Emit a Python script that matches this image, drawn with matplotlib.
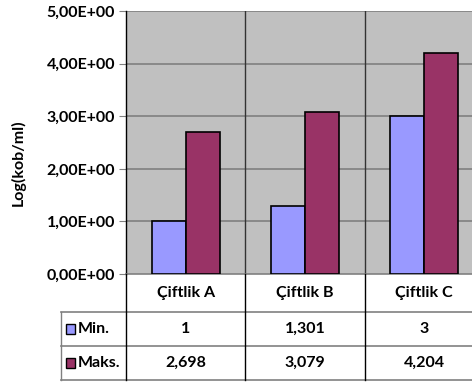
import matplotlib
matplotlib.use("Agg")
import matplotlib.pyplot as plt
from matplotlib.patches import Rectangle

categories = ["Çiftlik A", "Çiftlik B", "Çiftlik C"]
series_names = ["Min.", "Maks."]
min_values = [1, 1.301, 3]
max_values = [2.698, 3.079, 4.204]
min_labels = ["1", "1,301", "3"]
max_labels = ["2,698", "3,079", "4,204"]
y_ticks = [0, 1, 2, 3, 4, 5]
y_tick_labels = ["0,00E+00", "1,00E+00", "2,00E+00", "3,00E+00", "4,00E+00", "5,00E+00"]

plt.rcParams["font.family"] = ["Lato", "DejaVu Sans"]
plt.rcParams["font.weight"] = "bold"
FS = 11.5

W, H = 472, 382
fig = plt.figure(figsize=(W / 100, H / 100), dpi=100)
fig.patch.set_facecolor("white")

# plot area runs past the right edge of the figure, like the original sheet
left, right, top, bottom = 126, 484, 11, 274
ax = fig.add_axes([left / W, 1 - bottom / H, (right - left) / W, (bottom - top) / H])
ax.set_facecolor("#C0C0C0")

colors = ["#9999FF", "#993366"]
bar_w = 34 / 119
x = list(range(len(categories)))
ax.bar([i - bar_w / 2 for i in x], min_values, bar_w, color=colors[0],
       edgecolor="black", linewidth=1.2, zorder=3)
ax.bar([i + bar_w / 2 for i in x], max_values, bar_w, color=colors[1],
       edgecolor="black", linewidth=1.2, zorder=3)

ax.set_xlim(-0.5, len(categories) - 0.5)
ax.set_ylim(0, 5)
ax.set_yticks(y_ticks)
ax.set_yticklabels(y_tick_labels, fontsize=FS, fontweight="bold")
ax.tick_params(axis="y", length=5, color="#808080", pad=3)
ax.set_xticks([])
for yv in y_ticks[1:]:
    ax.axhline(yv, color="#808080", linewidth=1.2, zorder=1)
for xv in [0.5, 1.5]:
    ax.axvline(xv, color="#333333", linewidth=1.0, zorder=1)

for s in ["top", "right"]:
    ax.spines[s].set_visible(False)
ax.spines["left"].set_color("black")
ax.spines["left"].set_linewidth(1.0)
ax.spines["bottom"].set_color("#808080")
ax.spines["bottom"].set_linewidth(1.2)

fig.text(18 / W, 1 - 163 / H, "Log(kob/ml)", rotation=90, ha="center", va="center",
         fontsize=FS, fontweight="bold")

# data table under the plot area, drawn in pixel coordinates
def px(xp, yp):
    return xp / W, 1 - yp / H

table_left = 61
row_edges = [274, 311.5, 346, 380]
col_edges = [126 + 119.3 * i for i in range(4)]

def hline(y, x0, x1, color="#808080", lw=1.2):
    fig.add_artist(plt.Line2D([x0 / W, x1 / W], [1 - y / H, 1 - y / H],
                              color=color, linewidth=lw))

def vline(xp, y0, y1, color="black", lw=1.0):
    fig.add_artist(plt.Line2D([xp / W, xp / W], [1 - y0 / H, 1 - y1 / H],
                              color=color, linewidth=lw))

hline(row_edges[1], table_left, W + 5)
hline(row_edges[2], table_left, W + 5)
hline(row_edges[3], table_left, W + 5)
vline(table_left, row_edges[1], row_edges[3], color="#808080")
for c in col_edges[:3]:
    vline(c, row_edges[0], row_edges[3])

for i, cat in enumerate(categories):
    cx = (col_edges[i] + col_edges[i + 1]) / 2
    fig.text(*px(cx, (row_edges[0] + row_edges[1]) / 2), cat, ha="center",
             va="center", fontsize=FS, fontweight="bold")
    fig.text(*px(cx, (row_edges[1] + row_edges[2]) / 2), min_labels[i], ha="center",
             va="center", fontsize=FS, fontweight="bold")
    fig.text(*px(cx, (row_edges[2] + row_edges[3]) / 2), max_labels[i], ha="center",
             va="center", fontsize=FS, fontweight="bold")

for r, (name, col) in enumerate(zip(series_names, colors)):
    yc = (row_edges[r + 1] + row_edges[r + 2]) / 2
    fig.add_artist(Rectangle(px(66, yc + 5), 9 / W, 10 / H, facecolor=col,
                             edgecolor="black", linewidth=1.0))
    fig.text(*px(78, yc), name, ha="left", va="center", fontsize=FS, fontweight="bold")

fig.savefig("out.png", dpi=100, facecolor="white")
